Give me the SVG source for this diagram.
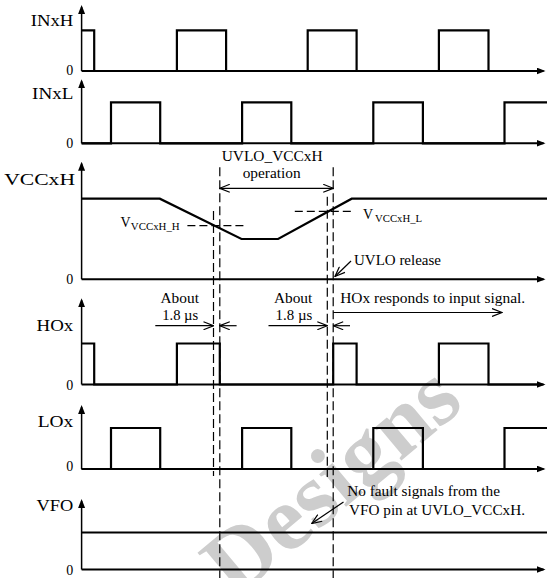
<svg xmlns="http://www.w3.org/2000/svg" width="547" height="578" viewBox="0 0 547 578" font-family="'Liberation Serif','Times New Roman',serif">
<defs>
<style>
text{font-family:"Liberation Serif","Times New Roman",serif;fill:#000}
.lab{font-size:17px}
.zero{font-size:14px;text-anchor:end}
.ann{font-size:14px}
.sub{font-size:10.5px}
.hax{stroke:#000;stroke-width:2;fill:none;marker-end:url(#tri)}
.vax{stroke:#000;stroke-width:1.5;fill:none;marker-end:url(#tri)}
.sig{stroke:#000;stroke-width:2.2;fill:none;stroke-linejoin:miter}
.dash{stroke:#000;stroke-width:1.2;stroke-dasharray:9 4;fill:none}
.hdash{stroke:#000;stroke-width:1.2;stroke-dasharray:8 4;fill:none}
.dim{stroke:#000;stroke-width:1.2;fill:none;marker-end:url(#chev)}
.dim2{stroke:#000;stroke-width:1.2;fill:none;marker-start:url(#chev);marker-end:url(#chev)}
.wm{font-weight:bold;font-size:92px;fill:#cdcdcd}
</style>
<marker id="tri" viewBox="0 0 9 7" refX="7" refY="3.5" markerWidth="9" markerHeight="7" markerUnits="userSpaceOnUse" orient="auto">
<path d="M0,0 L9,3.5 L0,7 Z" fill="#000"/>
</marker>
<marker id="chev" viewBox="0 0 11 9" refX="10.5" refY="4.5" markerWidth="11" markerHeight="9" markerUnits="userSpaceOnUse" orient="auto-start-reverse">
<path d="M0.5,0.5 L10.5,4.5 L0.5,8.5" fill="none" stroke="#000" stroke-width="1.2"/>
</marker>
</defs>
<rect width="547" height="578" fill="#fff"/>

<g id="watermark">
<text class="wm" transform="translate(235,600) rotate(-40)">Designs</text>
</g>

<g id="INxH">
<text class="lab" x="30.7" y="26" textLength="42.6" lengthAdjust="spacingAndGlyphs">INxH</text>
<text class="zero" x="73.3" y="74.5">0</text>
<line class="vax" x1="81.6" y1="71" x2="81.6" y2="7"/>
<line class="hax" x1="81.6" y1="71" x2="543.5" y2="71"/>
<polyline class="sig" points="81.6,30.3 94.2,30.3 94.2,71 176.9,71 176.9,30.3 226.1,30.3 226.1,71 307.7,71 307.7,30.3 356.6,30.3 356.6,71 438.9,71 438.9,30.3 488.5,30.3 488.5,71 538,71"/>
</g>

<g id="INxL">
<text class="lab" x="32.1" y="98.7" textLength="41.2" lengthAdjust="spacingAndGlyphs">INxL</text>
<text class="zero" x="73.3" y="147.8">0</text>
<line class="vax" x1="81.6" y1="143.3" x2="81.6" y2="81.3"/>
<line class="hax" x1="81.6" y1="143.3" x2="543.5" y2="143.3"/>
<polyline class="sig" points="81.6,143.3 111,143.3 111,102.3 160.2,102.3 160.2,143.3 242.1,143.3 242.1,102.3 291.3,102.3 291.3,143.3 373.3,143.3 373.3,102.3 422.9,102.3 422.9,143.3 504.5,143.3 504.5,102.3 547,102.3"/>
</g>

<g id="VCCxH">
<text class="lab" x="4.2" y="185" textLength="70.8" lengthAdjust="spacingAndGlyphs">VCCxH</text>
<text class="zero" x="73.3" y="284">0</text>
<line class="vax" x1="81.6" y1="279.3" x2="81.6" y2="163.7"/>
<line class="hax" x1="81.6" y1="279.3" x2="543.5" y2="279.3"/>
<polyline class="sig" points="81.6,198.7 159.8,198.7 241.5,239 278.1,239 351.7,198.7 547,198.7"/>
<line class="hdash" x1="187.4" y1="225.7" x2="246" y2="225.7"/>
<line class="hdash" x1="294.8" y1="211.3" x2="352.4" y2="211.3"/>
<text class="ann" x="120.4" y="227.3" font-size="15">V</text>
<text class="sub" x="130.8" y="230.3" textLength="48.9" lengthAdjust="spacingAndGlyphs">VCCxH_H</text>
<text class="ann" x="362.9" y="219.3" font-size="15">V</text>
<text class="sub" x="375" y="222" textLength="47.2" lengthAdjust="spacingAndGlyphs">VCCxH_L</text>
</g>

<g id="HOx">
<text class="lab" x="36.6" y="331" textLength="36.7" lengthAdjust="spacingAndGlyphs">HOx</text>
<text class="zero" x="73.3" y="390">0</text>
<line class="vax" x1="81.6" y1="384.5" x2="81.6" y2="300.3"/>
<line class="hax" x1="81.6" y1="384.5" x2="543.5" y2="384.5"/>
<polyline class="sig" points="81.6,343.5 94.2,343.5 94.2,384.5 176.9,384.5 176.9,343.5 219.8,343.5 219.8,384.5 333.2,384.5 333.2,343.5 356.6,343.5 356.6,384.5 438.9,384.5 438.9,343.5 488.5,343.5 488.5,384.5 538,384.5"/>
</g>

<g id="LOx">
<text class="lab" x="37.7" y="426.7" textLength="35.6" lengthAdjust="spacingAndGlyphs">LOx</text>
<text class="zero" x="73.3" y="471">0</text>
<line class="vax" x1="81.6" y1="469" x2="81.6" y2="407"/>
<line class="hax" x1="81.6" y1="469" x2="543.5" y2="469"/>
<polyline class="sig" points="81.6,469 111,469 111,428 160.2,428 160.2,469 242.1,469 242.1,428 291.3,428 291.3,469 373.3,469 373.3,428 422.9,428 422.9,469 504.5,469 504.5,428 547,428"/>
</g>

<g id="VFO">
<text class="lab" x="36.6" y="510.7" textLength="36.7" lengthAdjust="spacingAndGlyphs">VFO</text>
<text class="zero" x="73.3" y="575">0</text>
<line class="vax" x1="81.6" y1="569.5" x2="81.6" y2="501"/>
<line class="hax" x1="81.6" y1="569.5" x2="543.5" y2="569.5"/>
<polyline class="sig" points="81.6,532.5 547,532.5"/>
</g>

<g id="annotations">
<text class="ann" x="221.7" y="161" textLength="101" lengthAdjust="spacingAndGlyphs">UVLO_VCCxH</text>
<text class="ann" x="242.7" y="178" textLength="58" lengthAdjust="spacingAndGlyphs">operation</text>
<text class="ann" x="354" y="265" textLength="87" lengthAdjust="spacingAndGlyphs">UVLO release</text>
<text class="ann" x="160.5" y="303" textLength="38.4" lengthAdjust="spacingAndGlyphs">About</text>
<text class="ann" x="162.2" y="320" textLength="36" lengthAdjust="spacingAndGlyphs">1.8 µs</text>
<text class="ann" x="273.9" y="303" textLength="38.4" lengthAdjust="spacingAndGlyphs">About</text>
<text class="ann" x="275.6" y="320" textLength="36.7" lengthAdjust="spacingAndGlyphs">1.8 µs</text>
<text class="ann" x="340.2" y="303" textLength="185" lengthAdjust="spacingAndGlyphs">HOx responds to input signal.</text>
<text class="ann" x="347.2" y="496" textLength="152.8" lengthAdjust="spacingAndGlyphs">No fault signals from the</text>
<text class="ann" x="349" y="514.5" textLength="176" lengthAdjust="spacingAndGlyphs">VFO pin at UVLO_VCCxH.</text>
</g>

<g id="connectors">
<line class="dash" x1="213.5" y1="211" x2="213.5" y2="476"/>
<line class="dash" x1="219.8" y1="167.3" x2="219.8" y2="578"/>
<line class="dash" x1="327.3" y1="196.7" x2="327.3" y2="477"/>
<line class="dash" x1="333.2" y1="167.3" x2="333.2" y2="578"/>
<line class="dim2" x1="219.8" y1="188.3" x2="333.2" y2="188.3"/>
<line class="dim" x1="155.3" y1="325.7" x2="213.5" y2="325.7"/>
<line class="dim" x1="236.6" y1="325.7" x2="219.8" y2="325.7"/>
<line class="dim" x1="268.5" y1="325.7" x2="327.3" y2="325.7"/>
<line class="dim" x1="350" y1="325.7" x2="333.2" y2="325.7"/>
<line class="dim" x1="333.2" y1="312.5" x2="502" y2="312.5"/>
<line class="dim" x1="351" y1="261" x2="335" y2="276.5"/>
<line class="dim" x1="343.5" y1="502" x2="311.7" y2="523.5"/>
</g>
</svg>
